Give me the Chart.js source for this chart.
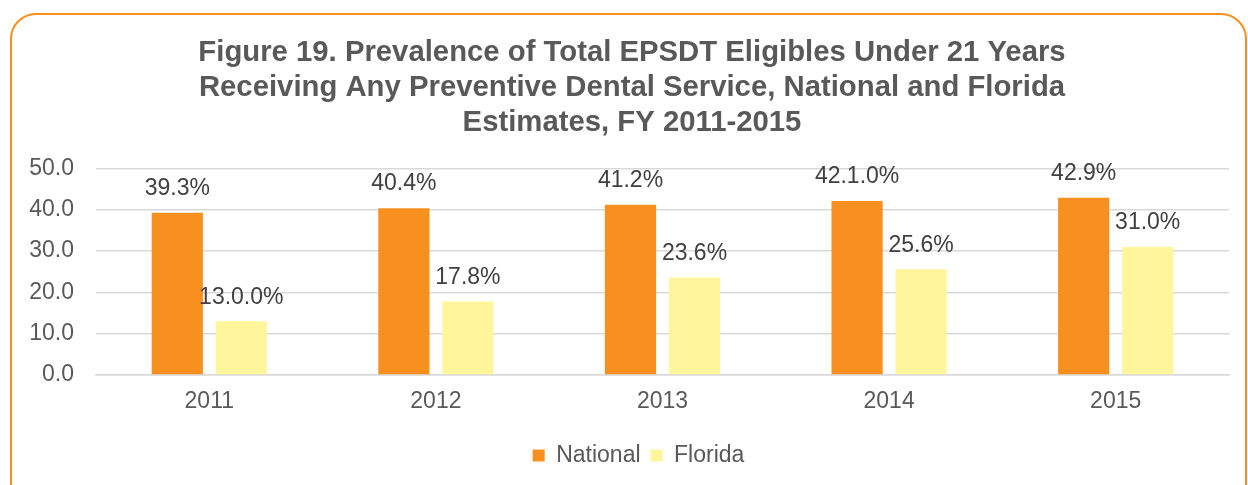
<!DOCTYPE html>
<html>
<head>
<meta charset="utf-8">
<script src="https://cdn.jsdelivr.net/npm/chart.js@4/dist/chart.umd.min.js"></script>
<style>
  html, body { margin: 0; padding: 0; background: #fff; overflow: hidden; }
  #wrap { position: relative; width: 1248px; height: 485px; }
  #frame { position: absolute; left: 10px; top: 13px; width: 1237px; height: 520px;
           box-sizing: border-box; border: 2px solid #F7901E; border-radius: 26px; }
  canvas { position: absolute; left: 0; top: 0; }
</style>
</head>
<body>
<div id="wrap">
  <div id="frame"></div>
  <canvas id="c" width="1248" height="485"></canvas>
</div>
<script>
const categories = ['2011', '2012', '2013', '2014', '2015'];
const nationalValues = [39.3, 40.4, 41.2, 42.1, 42.9];
const floridaValues = [13.0, 17.8, 23.6, 25.6, 31.0];
const nationalLabels = ['39.3%', '40.4%', '41.2%', '42.1.0%', '42.9%'];
const floridaLabels = ['13.0.0%', '17.8%', '23.6%', '25.6%', '31.0%'];
const yTickLabels = ['0.0', '10.0', '20.0', '30.0', '40.0', '50.0'];
const titleLines = [
  'Figure 19. Prevalence of Total EPSDT Eligibles Under 21 Years',
  'Receiving Any Preventive Dental Service, National and Florida',
  'Estimates, FY 2011-2015'
];
const seriesNames = ['National', 'Florida'];

const FONT = '"Liberation Sans", Arial, Helvetica, sans-serif';

const valueLabelPlugin = {
  id: 'valueLabels',
  afterDatasetsDraw(chart) {
    const ctx = chart.ctx;
    const labelSets = [nationalLabels, floridaLabels];
    ctx.save();
    ctx.font = '23px ' + FONT;
    ctx.fillStyle = '#404040';
    ctx.textAlign = 'center';
    ctx.textBaseline = 'middle';
    chart.data.datasets.forEach((ds, di) => {
      const meta = chart.getDatasetMeta(di);
      meta.data.forEach((bar, i) => {
        ctx.fillText(labelSets[di][i], bar.x, bar.y - 24);
      });
    });
    ctx.restore();
  }
};

// nudge the title and legend blocks so they are centred like the reference
const blockShiftPlugin = {
  id: 'blockShift',
  afterLayout(chart) {
    if (chart.titleBlock) {
      chart.titleBlock.left += 4.5;
      chart.titleBlock.right += 4.5;
    }
    if (chart.legend) {
      chart.legend.left += 11;
      chart.legend.right += 11;
    }
  }
};

new Chart(document.getElementById('c'), {
  type: 'bar',
  data: {
    labels: categories,
    datasets: [
      { label: seriesNames[0], data: nationalValues, backgroundColor: '#F7901E',
        categoryPercentage: 0.565, barPercentage: 0.8 },
      { label: seriesNames[1], data: floridaValues, backgroundColor: '#FFF59A',
        categoryPercentage: 0.565, barPercentage: 0.8 }
    ]
  },
  options: {
    responsive: false,
    animation: false,
    devicePixelRatio: 1,
    layout: { padding: { left: 26, right: 19, top: 13, bottom: 8 } },
    plugins: {
      title: {
        display: true,
        text: titleLines,
        color: '#595959',
        font: { family: FONT, size: 29.3, weight: 'bold', lineHeight: 1.2 },
        padding: { top: 22, bottom: 28 }
      },
      legend: {
        position: 'bottom',
        labels: {
          color: '#595959',
          font: { family: FONT, size: 23 },
          boxWidth: 12,
          boxHeight: 12,
          padding: 10
        }
      },
      tooltip: { enabled: false }
    },
    scales: {
      x: {
        grid: { display: false, drawTicks: false },
        border: { display: true, color: '#D9D9D9', width: 1.5 },
        ticks: { color: '#595959', font: { family: FONT, size: 23 }, padding: 13 },
        afterFit(scale) { scale.height = 59; }
      },
      y: {
        min: 0, max: 50,
        grid: { color: '#D9D9D9', lineWidth: 1.5, drawTicks: false },
        border: { display: false },
        ticks: {
          stepSize: 10,
          color: '#595959',
          font: { family: FONT, size: 23 },
          padding: 22,
          callback: (v, i) => yTickLabels[i]
        },
        afterFit(scale) { scale.width = 70; }
      }
    }
  },
  plugins: [valueLabelPlugin, blockShiftPlugin]
});
</script>
</body>
</html>
